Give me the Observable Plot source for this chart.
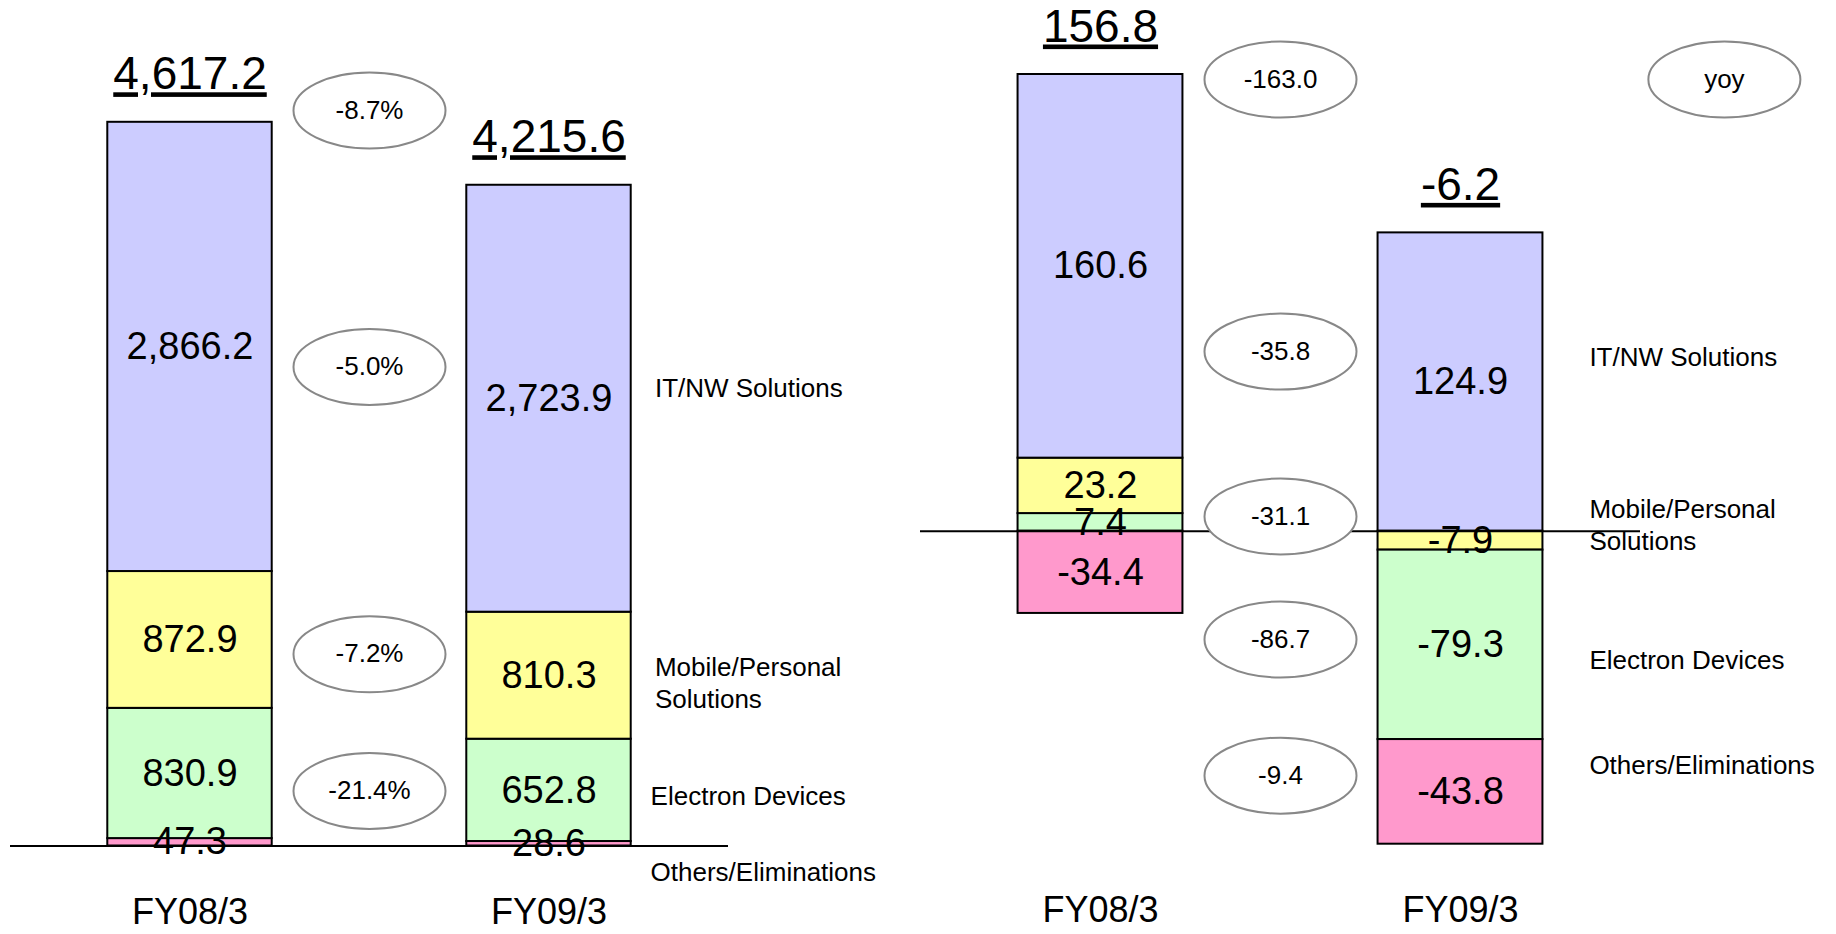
<!DOCTYPE html>
<html>
<head>
<meta charset="utf-8">
<script src="https://cdn.jsdelivr.net/npm/d3@7"></script>
<script src="https://cdn.jsdelivr.net/npm/@observablehq/plot@0.6"></script>
<style>
  html, body { margin: 0; padding: 0; background: #fff; }
  #wrap { display: flex; width: 1836px; height: 934px; overflow: hidden; }
  #wrap svg { flex: none; }
</style>
</head>
<body>
<div id="wrap"></div>
<script>
// ---------- data ----------
const years = ["FY08/3", "FY09/3"];
const segments = ["IT/NW Solutions", "Mobile/Personal Solutions", "Electron Devices", "Others/Eliminations"];
const segmentLabels = ["IT/NW Solutions", "Mobile/Personal\nSolutions", "Electron Devices", "Others/Eliminations"];
const colors = ["#ccccff", "#ffff99", "#ccffcc", "#ff99cc"];

// Net sales (left)
const salesFY08 = [2866.2, 872.9, 830.9, 47.3];
const salesFY09 = [2723.9, 810.3, 652.8, 28.6];
const salesTotals = [4617.2, 4215.6];
const salesYoy = ["-8.7%", "-5.0%", "-7.2%", "-21.4%"];   // total, IT/NW, Mobile, Electron

// Operating income (right)
const opFY08 = [160.6, 23.2, 7.4, -34.4];
const opFY09 = [124.9, -7.9, -79.3, -43.8];
const opTotals = [156.8, -6.2];
const opYoy = ["-163.0", "-35.8", "-31.1", "-86.7", "-9.4"]; // total, IT/NW, Mobile, Electron, Others
const yoyTag = ["yoy"];

// annotation anchors (in value units)
const salesYoyAt = [4692, 3056, 1224, 351];
const salesLabelAt = [2932, 1050, 329, -156];
const salesLabelX = [1.295, 1.295, 1.283, 1.283];
const opYoyAt = [189.1, 75.2, 6.2, -45.3, -102.3];
const opLabelAt = [73.6, 3.0, -53.3, -97.4];
const opLabelX = [1.358, 1.358, 1.358, 1.358];

// ---------- helpers ----------
const fmt = d3.formatLocale({decimal: ".", thousands: ",", grouping: [3], currency: ["", ""], minus: "-"}).format(",.1f");
const FONT = "'Liberation Sans', Arial, Helvetica, sans-serif";

const ellipse = {
  draw(ctx, size) {
    const ry = Math.sqrt(size / Math.PI), rx = 2 * ry, k = 0.5522847498;
    ctx.moveTo(rx, 0);
    ctx.bezierCurveTo(rx, k * ry, k * rx, ry, 0, ry);
    ctx.bezierCurveTo(-k * rx, ry, -rx, k * ry, -rx, 0);
    ctx.bezierCurveTo(-rx, -k * ry, -k * rx, -ry, 0, -ry);
    ctx.bezierCurveTo(k * rx, -ry, rx, -k * ry, rx, 0);
    ctx.closePath();
  }
};

function panel(cfg) {
  const rows = [];
  cfg.values.forEach((vals, i) => vals.forEach((v, j) => rows.push({idx: i, seg: segments[j], j, value: v})));
  const pos = rows.filter(d => d.value >= 0).sort((a, b) => d3.descending(a.j, b.j) || a.idx - b.idx);
  const neg = rows.filter(d => d.value < 0).sort((a, b) => d3.ascending(a.j, b.j) || a.idx - b.idx);
  const tops = cfg.values.map((vals, i) => ({idx: i, top: d3.sum(vals.filter(v => v > 0)), total: cfg.totals[i]}));
  const lo = d3.min(cfg.values, vals => d3.sum(vals.filter(v => v < 0)));
  const hi = d3.max(tops, d => d.top);
  const H = 0.229;
  const bar = {x1: d => d.idx - H, x2: d => d.idx + H, y: "value", fill: "seg", stroke: "#000", strokeWidth: 2};
  const lab = {x: "idx", y: "value", text: d => fmt(d.value), fontSize: 38, fill: "#000"};
  const yoyRows = cfg.yoy.map((t, k) => ({t, y: cfg.yoyAt[k]}));
  const catRows = segmentLabels.map((t, k) => ({t, y: cfg.labelAt[k], x: cfg.labelX[k]}));
  const marks = [
    Plot.rectY(pos, Plot.stackY(bar)),
    Plot.rectY(neg, Plot.stackY(bar)),
    Plot.ruleY([0], {stroke: "#000", strokeWidth: 2}),
    Plot.dot(yoyRows, {x: () => 0.5, y: "y", r: 38, symbol: ellipse, fill: "#fff", stroke: "#888", strokeWidth: 2}),
    Plot.text(yoyRows, {x: () => 0.5, y: "y", text: "t", fontSize: 26, fill: "#000"}),
    Plot.text(pos, Plot.stackY(lab)),
    Plot.text(neg, Plot.stackY(lab)),
    Plot.text(tops, {x: "idx", y: "top", text: d => fmt(d.total), fontSize: 46, lineAnchor: "bottom", dy: -33, fill: "#000"}),
    Plot.text(catRows, {x: "x", y: "y", text: "t", textAnchor: "start", lineHeight: 1.23, fontSize: 26, fill: "#000"}),
    Plot.axisX([0, 1], {tickFormat: i => years[i], tickSize: 0, tickPadding: 52, fontSize: 36, label: null, fill: "#000"})
  ];
  if (cfg.tag) {
    const tagRows = cfg.tag.map(t => ({t, y: cfg.yoyAt[0]}));
    marks.push(Plot.dot(tagRows, {x: () => cfg.tagX, y: "y", r: 38, symbol: ellipse, fill: "#fff", stroke: "#888", strokeWidth: 2}));
    marks.push(Plot.text(tagRows, {x: () => cfg.tagX, y: "y", text: "t", fontSize: 26, fill: "#000"}));
  }
  const svg = Plot.plot({
    width: 918, height: 934,
    marginLeft: cfg.ml, marginRight: cfg.mr, marginTop: cfg.mt, marginBottom: cfg.mb,
    x: {domain: [-0.5, 1.5]},
    y: {domain: [lo, hi], axis: null},
    color: {domain: segments, range: colors},
    style: {fontFamily: FONT, fontSize: "36px", background: "#fff", overflow: "visible", color: "#000"},
    marks
  });
  const totalStrings = new Set(cfg.totals.map(fmt));
  svg.querySelectorAll("text").forEach(t => {
    if (totalStrings.has(t.textContent)) {
      t.style.textDecoration = "underline";
      t.style.textDecorationThickness = "3px";
      t.style.textUnderlineOffset = "5px";
    }
  });
  return svg;
}

const wrap = document.getElementById("wrap");
wrap.appendChild(panel({
  values: [salesFY08, salesFY09], totals: salesTotals, yoy: salesYoy, yoyAt: salesYoyAt,
  labelAt: salesLabelAt, labelX: salesLabelX, ml: 10, mr: 190, mt: 121.8, mb: 88.5
}));
wrap.appendChild(panel({
  values: [opFY08, opFY09], totals: opTotals, yoy: opYoy, yoyAt: opYoyAt,
  labelAt: opLabelAt, labelX: opLabelX, ml: 2, mr: 196, mt: 74, mb: 90.3,
  tag: yoyTag, tagX: 1.733
}));
</script>
</body>
</html>
